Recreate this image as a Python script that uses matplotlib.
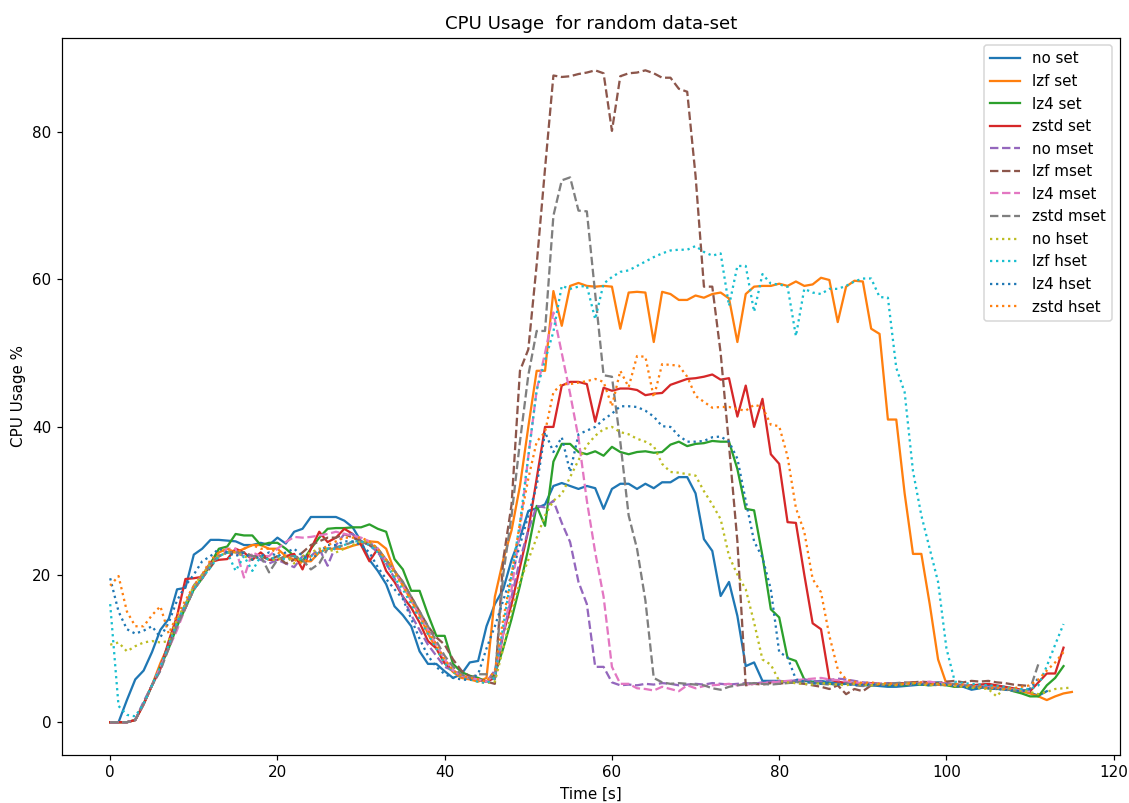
import matplotlib
matplotlib.use("Agg")
import matplotlib.pyplot as plt

no_set = [0, 0, 3, 5.8, 7, 9.5, 12.5, 14, 18, 18.2,
          22.7, 23.5, 24.7, 24.7, 24.6, 24.5, 24, 24, 24.3, 24,
          25, 24.2, 25.8, 26.2, 27.8, 27.8, 27.8, 27.8, 27.3, 26.4,
          24.5, 22, 20.5, 18.7, 15.7, 14.5, 13, 9.6, 7.9, 7.9,
          6.9, 6, 6.5, 8.1, 8.3, 13, 16, 18, 22, 25,
          28.6, 29, 29.5, 32, 32.4, 32, 31.6, 32, 31.7, 28.9,
          31.6, 32.3, 32.3, 31.6, 32.3, 31.7, 32.5, 32.5, 33.2, 33.2,
          31, 24.8, 23.2, 17.1, 19, 14.4, 7.6, 8.1, 5.6, 5.6,
          5.6, 5.4, 5.5, 5.6, 5.5, 5.6, 5.4, 5.3, 5.2, 5.1,
          5, 5, 4.9, 4.8, 4.8, 4.9, 5, 5.1, 5.3, 5.4,
          5.2, 4.9, 4.8, 4.4, 4.6, 4.9, 4.7, 4.5, 4.3, 4.2,
          4, 3.6, 4.2]

lzf_set = [0, 0, 0, 0.3, 2.5, 5, 8, 10.5, 13.5, 16,
           18, 19.5, 21.5, 23, 23.5, 23, 23.5, 24, 24, 23.5,
           23.5, 22.5, 22, 21.8, 21.8, 23, 23.5, 23.5, 23.5, 23.9,
           24.2, 24.5, 24.4, 23.5, 20.5, 18.5, 16.5, 14.5, 12, 10,
           8, 6.8, 6, 5.8, 5.5, 6, 17, 22, 26, 32,
           40, 47.6, 47.6, 58.4, 53.7, 59.1, 59.5, 59.1, 59, 59.1,
           59, 53.3, 58.2, 58.3, 58.2, 51.5, 58.3, 58, 57.2, 57.2,
           57.8, 57.5, 58, 58.2, 57.4, 51.5, 58, 59, 59.1, 59.1,
           59.4, 59.1, 59.7, 59.1, 59.3, 60.2, 59.9, 54.2, 59, 59.8,
           59.7, 53.3, 52.6, 41, 41, 31, 22.8, 22.8, 16, 8.5,
           5.2, 4.8, 5, 5, 4.9, 4.7, 4.8, 4.5, 4.4, 4.2,
           3.9, 3.5, 3, 3.5, 3.9, 4.1]

lz4_set = [0, 0, 0, 0.3, 2.5, 5, 7.5, 10, 13, 15.5,
           18, 19.5, 21.5, 23.5, 23.8, 25.5, 25.3, 25.3, 24, 24.3,
           24.3, 23.5, 22.5, 21.8, 23.5, 25, 26.2, 26.3, 26.3, 26.4,
           26.4, 26.8, 26.2, 25.8, 22.1, 20.7, 17.8, 17.8, 14.6, 11.7,
           11.7, 7.9, 6.8, 6.3, 6, 5.5, 6.5, 10, 14, 18.5,
           23.5, 29.3, 26.6, 35.3, 37.7, 37.7, 36.6, 36.3, 36.7, 36.1,
           37.3, 36.6, 36.3, 36.6, 36.7, 36.5, 36.6, 37.6, 38, 37.4,
           37.7, 37.8, 38.1, 38, 38, 34.3, 28.9, 28.7, 22.5, 15.3,
           14.2, 8.7, 8.3, 5.8, 5.4, 5.3, 5.2, 5.1, 5.3, 5.2,
           5.2, 5, 5.1, 5, 5.1, 5, 5.2, 5.1, 5, 5.1,
           5, 4.8, 4.9, 4.7, 4.8, 4.6, 4.5, 4.6, 4.2, 3.9,
           3.5, 3.5, 5, 6, 7.6]

zstd_set = [0, 0, 0, 0.3, 2.4, 5, 7.2, 11, 14.4, 19.4,
            19.5, 19.7, 21.7, 22, 22.1, 23.5, 23, 22, 23, 22,
            22, 22.5, 22.8, 20.7, 23.5, 25.8, 24.4, 25, 26.2, 25.5,
            24, 21.8, 23.5, 20.5, 19, 17, 15.5, 13.5, 11, 10,
            8, 7, 6.3, 6, 5.8, 5.5, 6, 12, 16, 21,
            26, 33, 40, 40, 45.6, 46.1, 46.1, 45.8, 40.7, 45.3,
            44.9, 45.2, 45.2, 45, 44.3, 44.5, 44.6, 45.7, 46.1, 46.5,
            46.6, 46.8, 47.1, 46.4, 46.6, 41.4, 45.6, 40, 43.8, 36.3,
            35, 27.1, 27, 20, 13.4, 12.6, 5.8, 5.5, 5.3, 5.2,
            5.2, 5.3, 5.2, 5.1, 5.2, 5.3, 5.4, 5.2, 5.1, 5.3,
            5.2, 5, 4.9, 5, 5.1, 5.2, 5, 4.8, 4.6, 4.4,
            4.2, 5.4, 6.6, 6.6, 10.1]

no_mset = [0, 0, 0, 0.3, 2.8, 5, 7, 10.5, 13.5, 16,
           18.5, 20, 21.5, 22.5, 23, 23, 22.5, 22.5, 22, 21.5,
           22, 21.5, 21, 22.5, 22.5, 23.5, 21.2, 24, 25.5, 25.5,
           24.5, 24, 23, 21.5, 19.5, 17, 14.5, 12.5, 10.5, 9,
           7.5, 7, 6.3, 6, 5.8, 5.5, 7, 12, 17, 22,
           26, 29.3, 29.1, 30, 27, 24.4, 19, 16, 7.5, 7.5,
           5.4, 5, 5.1, 5, 5.2, 5.1, 5.3, 5.2, 5, 5.1,
           5.2, 5.1, 5.3, 5.2, 5.1, 5.2, 5.3, 5.2, 5.4, 5.5,
           5.6, 5.5, 5.7, 5.8, 5.6, 5.5, 5.7, 5.9, 5.8, 5.6,
           5.4, 5.3, 5.2, 5.3, 5.1, 5.2, 5.3, 5.4, 5.2, 5.1,
           5.3, 5.1, 5, 4.8, 4.9, 4.7, 4.6, 4.5, 4.4, 4.3,
           4.2]

lzf_mset = [0, 0, 0, 0.3, 2.5, 5, 7.5, 10.5, 13, 15.5,
            18, 19.5, 21, 22.5, 23, 23, 23, 22.5, 22.5, 22,
            22.5, 21.5, 22, 23, 24, 24.5, 25, 25, 25.5, 25,
            24.5, 24, 23.5, 22, 20.5, 19, 17, 15, 13, 11.5,
            10.5, 8.5, 7, 6.2, 5.8, 5.5, 5.2, 22, 29.5, 47.6,
            50.5, 62, 75, 87.6, 87.4, 87.5, 87.8, 88, 88.3, 87.9,
            80.1, 87.5, 87.9, 88, 88.3, 87.9, 87.3, 87.3, 85.8, 85.4,
            74, 59, 59, 50, 37.5, 24.5, 5, 5.2, 5.1, 5.3,
            5.2, 5.4, 5.3, 5.2, 5, 4.8, 4.5, 5, 3.8, 4.5,
            4.2, 5, 5.1, 5.2, 5.3, 5.2, 5.4, 5.5, 5.4, 5.3,
            5.5, 5.6, 5.4, 5.6, 5.5, 5.6, 5.4, 5.3, 5.1, 5,
            4.9]

lz4_mset = [0, 0, 0, 0.3, 2.5, 5, 7.5, 10, 12.5, 15.5,
            18, 19.5, 21.5, 22.5, 23.5, 23.5, 19.6, 23, 22.5, 22.5,
            23.5, 24.4, 25.1, 25, 25.1, 25.3, 25.5, 25.8, 25.5, 25.3,
            25, 24.5, 23.5, 22, 20.5, 18.5, 16.5, 14.5, 12.5, 10.5,
            8.5, 7, 6.3, 6, 5.8, 5.5, 6.5, 12, 18, 26,
            36, 45, 50, 55.5, 50, 44.5, 38.5, 30, 23, 17,
            7.5, 5.2, 5.2, 4.6, 4.5, 4.3, 4.8, 4.5, 4.2, 5,
            4.6, 4.9, 5, 5.1, 5.2, 5, 5.1, 5.2, 5.3, 5.4,
            5.5, 5.6, 5.7, 5.8, 5.9, 6, 5.8, 5.7, 5.5, 5.4,
            5.3, 5.2, 5.1, 5.2, 5.3, 5.2, 5.1, 5.4, 5.5, 5.3,
            5.2, 5, 5.1, 4.9, 4.8, 4.7, 4.6, 4.5, 4.4, 4.3,
            4.2]

zstd_mset = [0, 0, 0, 0.3, 2.5, 5, 7, 10, 13, 15.5,
             18, 19.5, 21.5, 22.5, 23, 23, 23, 22.5, 22.5, 20.3,
             22, 22.5, 22.5, 22, 20.7, 21.5, 23.5, 23.7, 24, 24.4,
             24.5, 24.2, 23.5, 22, 20.5, 19, 17, 15, 13, 11,
             9, 7.5, 6.5, 6, 6.5, 6.5, 5.8, 20, 28, 38,
             47, 53, 53, 68.6, 73.4, 73.8, 69.3, 69.2, 58, 47,
             46.8, 38, 28, 23.5, 16.5, 6, 5.4, 5.2, 5.3, 5.2,
             5.1, 5, 4.6, 4.4, 4.8, 5, 5.2, 5.3, 5.2, 5.1,
             5.2, 5.3, 5.4, 5.5, 5.3, 5.2, 5.1, 5.2, 5.3, 5,
             4.9, 5, 5.1, 5.2, 5.3, 5.4, 5.3, 5.2, 5.1, 5,
             5.1, 5.2, 5, 4.9, 4.8, 4.6, 4.5, 4.4, 4.3, 4.2,
             4.5, 7.9]

no_hset = [10.5, 10.8, 9.6, 10.3, 10.8, 11, 10.8, 11, 14, 16,
           18.5, 20, 21.5, 22.5, 23, 23, 22.5, 22, 22.5, 22,
           22, 22.5, 21.5, 22.5, 23, 23.5, 23.5, 23, 23.5, 24,
           24.5, 24.5, 23.5, 22, 20, 18.5, 16.5, 14, 12, 10,
           8, 6.8, 6.2, 5.8, 5.5, 5.3, 5.5, 10, 15, 19,
           22, 25, 28, 30, 30.9, 33.2, 35.5, 37.5, 38.8, 39.7,
           40, 39.3, 39, 38.4, 38, 37.4, 35, 33.9, 33.8, 33.6,
           33.4, 31.3, 29.5, 27.5, 22.5, 20, 18, 13.5, 8.5, 7.8,
           5.6, 5.4, 5.3, 5.2, 5.1, 5.3, 5.2, 5.1, 5, 5.2,
           5.1, 5, 5.2, 5.1, 5, 5.2, 5.3, 5.1, 5, 5.2,
           5.1, 4.9, 4.8, 4.7, 4.6, 4.5, 3.5, 4.7, 4.5, 4.3,
           4.1, 3.8, 4.1, 4.5, 4.6, 4.7]

lzf_hset = [16, 2.2, 1, 0.8, 2.5, 5, 7.5, 10.5, 13.5, 16,
            18, 19.5, 21, 22.5, 23, 20.5, 22.5, 20.5, 22.5, 22,
            22.5, 22, 22.5, 22, 22.5, 23, 23.5, 23.5, 24, 24.5,
            24.5, 24, 23, 21.5, 19.5, 18, 16, 14, 12, 10,
            8, 6.8, 6.2, 5.8, 5.5, 5.3, 6, 13, 20, 27,
            36, 45, 49, 52.9, 59.1, 58.7, 59, 59.1, 54.6, 59.4,
            60.3, 61, 61.2, 61.8, 62.4, 63, 63.5, 63.9, 64, 64,
            64.5, 63.7, 63.2, 63.5, 56.4, 61.8, 61.8, 55.6, 60.7, 59.4,
            59.3, 59, 52.3, 58.7, 58.2, 58, 58.7, 58.7, 59.1, 59.7,
            60.1, 60.1, 57.6, 57.5, 48, 44.7, 34, 28, 23.5, 19,
            10, 5.5, 5.3, 5.2, 5.1, 5, 4.9, 4.8, 4.6, 4.5,
            4.5, 5, 7.6, 10.5, 13.3]

lz4_hset = [19.5, 15, 12.6, 12, 12.4, 13, 11.5, 13.5, 16.5, 18.5,
            20, 21.8, 22.5, 23.5, 23, 22.5, 23, 22, 22.5, 23,
            22.5, 23, 23.5, 22.5, 22, 23, 24, 24, 24.5, 24.5,
            24, 23, 21, 19.4, 18, 16.7, 14, 11.3, 9, 7.5,
            6.5, 6, 5.8, 5.7, 6.5, 10, 13, 16.5, 20, 24,
            28, 32, 39.3, 36.6, 38.6, 33.9, 39, 39.5, 40, 41,
            41.8, 42.8, 42.8, 42.7, 42.2, 41.4, 40.1, 40, 38.8, 38,
            38, 38.1, 38.6, 38.7, 38, 35.7, 30, 24.5, 22.3, 18,
            9.5, 8.8, 5.8, 5.5, 5.3, 5.2, 5.3, 5.1, 5.2, 5,
            5.1, 5.2, 5, 4.9, 5, 5.1, 5.2, 5.1, 5, 5.2,
            5.1, 4.9, 4.8, 4.7, 4.8, 4.6, 4.5, 4.4, 4.3, 4.2,
            4.5, 6]

zstd_hset = [18.5, 19.8, 15, 13, 13, 14.5, 15.7, 12, 14.5, 16.5,
             18.5, 20, 22, 23, 23.5, 23, 23.5, 24, 23.5, 23.5,
             23, 22.5, 22, 21.5, 22.5, 23, 24, 24.5, 25, 25,
             25, 24.5, 23.5, 22, 20.5, 18.5, 16.5, 14.5, 12.5, 10.5,
             8.5, 7, 6.3, 6, 5.8, 5.5, 7, 14, 20, 27,
             33, 38, 39.3, 44.7, 45.8, 45.8, 46, 46.2, 46.5, 46.1,
             42.8, 47.6, 45.4, 49.6, 49.5, 44, 48.5, 48.4, 48.3, 46.8,
             44.2, 43.4, 42.6, 42.7, 42.7, 42.4, 42.2, 43, 42.7, 40.3,
             40.1, 36, 29, 25.8, 19.4, 17.6, 11.7, 7.2, 5.8, 5.5,
             5.3, 5.4, 5.2, 5.3, 5.1, 5.2, 5.3, 5.4, 5.2, 5.1,
             5, 5.2, 5.1, 4.9, 4.8, 4.6, 4.7, 4.5, 4.6, 4.8,
             5, 5.8, 7, 8.1, 9.5]

series = [
    ("no set", no_set, "-", "C0"),
    ("lzf set", lzf_set, "-", "C1"),
    ("lz4 set", lz4_set, "-", "C2"),
    ("zstd set", zstd_set, "-", "C3"),
    ("no mset", no_mset, "--", "C4"),
    ("lzf mset", lzf_mset, "--", "C5"),
    ("lz4 mset", lz4_mset, "--", "C6"),
    ("zstd mset", zstd_mset, "--", "C7"),
    ("no hset", no_hset, ":", "C8"),
    ("lzf hset", lzf_hset, ":", "C9"),
    ("lz4 hset", lz4_hset, ":", "C0"),
    ("zstd hset", zstd_hset, ":", "C1"),
]

DPI = 109
fig = plt.figure(figsize=(1129 / DPI, 803 / DPI), dpi=DPI)
ax = fig.add_axes([0.055, 0.06, 0.937, 0.893])
for label, vals, ls, col in series:
    ax.plot(range(len(vals)), vals, linestyle=ls, color=col, label=label, linewidth=1.5)

ax.set_title("CPU Usage  for random data-set")
ax.set_xlabel("Time [s]")
ax.set_ylabel("CPU Usage %")
ax.legend(loc="upper right")
fig.savefig("out.png", dpi=DPI)
